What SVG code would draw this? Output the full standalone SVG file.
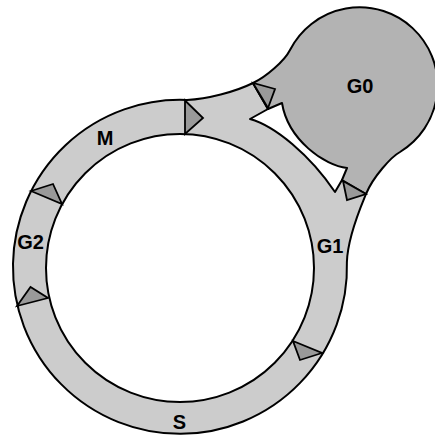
<svg xmlns="http://www.w3.org/2000/svg" width="435" height="436" viewBox="0 0 435 436">
<style>
.ring{fill:#cccccc;stroke:#000;stroke-width:2;stroke-linejoin:round;fill-rule:evenodd}
.g0{fill:#b3b3b3;stroke:#000;stroke-width:2;stroke-linejoin:round}
.arr{fill:#999999;stroke:#000;stroke-width:1.8;stroke-linejoin:miter}
.lbl{font-family:"Liberation Sans",Arial,sans-serif;font-weight:bold;font-size:20px;text-anchor:middle;fill:#000}
</style>
<rect width="435" height="436" fill="#fff"/>
<g id="cycle">
<path class="ring" d="M187,100 C207,99 235,92 253,83 L268,109 L250,119 C275,126 310,155 335,192 L342,180 L366,194 C362,204 347.7,236 346.9,262 A167,167 0 1 1 187,100 Z M46,268 A134,134 0 1 0 314,268 A134,134 0 1 0 46,268 Z"/>
</g>
<g id="G0">
<path class="g0" d="M253,83 C266,77 284.6,60.8 290,50 A78,78 0 1 1 400,152 C391,157 373,177 366,194 L342,180 L347,168 C325,166 288,140 282,103 L268,109 Z"/>
<text class="lbl" x="360" y="93">G0</text>
</g>
<g id="connectors">
<polygon class="arr" points="185,100.5 185,134 203,118"/>
<polygon class="arr" points="253,83 268,108 275,89"/>
<polygon class="arr" points="343,181 366,194 347,200"/>
<polygon class="arr" points="31,191 62,204 53,184"/>
<polygon class="arr" points="17,306 48,298 30.5,287"/>
<polygon class="arr" points="293,341 322,353 300,360"/>
</g>
<g id="M"><text class="lbl" x="105" y="145">M</text></g>
<g id="G2"><text class="lbl" x="30.5" y="249">G2</text></g>
<g id="G1"><text class="lbl" x="330" y="253">G1</text></g>
<g id="S"><text class="lbl" x="179.5" y="429">S</text></g>
</svg>
